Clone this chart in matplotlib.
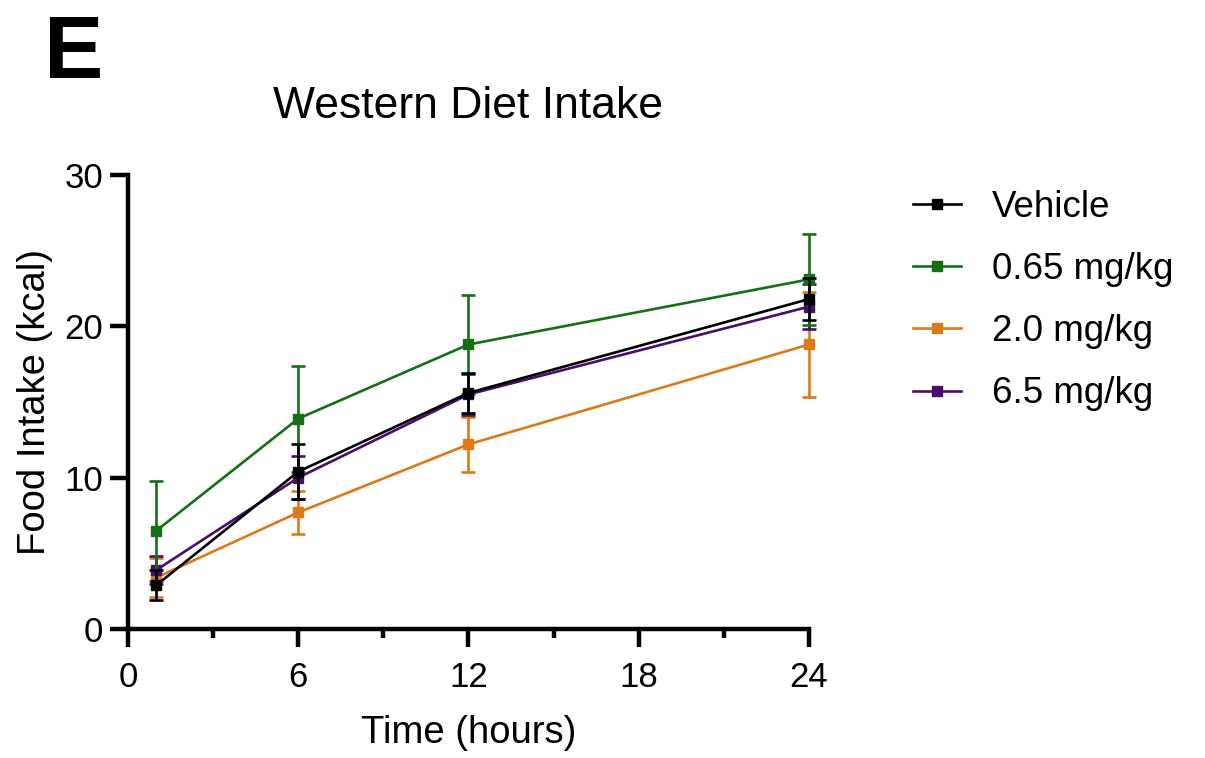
import numpy as np
import matplotlib as mpl
import matplotlib.pyplot as plt
from matplotlib.ticker import MultipleLocator

mpl.rcParams['font.family'] = ['Liberation Sans', 'DejaVu Sans']

# data (mean, SEM)
hours = [1, 6, 12, 24]
groups = ['Vehicle', '0.65 mg/kg', '2.0 mg/kg', '6.5 mg/kg']
vehicle = [2.9, 10.4, 15.6, 21.8]
vehicle_sem = [1.0, 1.8, 1.3, 1.4]
low = [6.5, 13.9, 18.8, 23.1]
low_sem = [3.3, 3.5, 3.25, 3.0]
mid = [3.4, 7.7, 12.2, 18.8]
mid_sem = [1.3, 1.4, 1.8, 3.5]
high = [3.9, 10.0, 15.5, 21.3]
high_sem = [0.9, 1.4, 1.35, 1.5]

colours = ['black', '#137013', '#dd7a18', '#4a0d6e']
series = [(vehicle, vehicle_sem), (low, low_sem), (mid, mid_sem), (high, high_sem)]
zorders = [6, 5, 3, 4]

fig = plt.figure(figsize=(12.05, 7.58), dpi=100)
ax = fig.add_axes([128 / 1205, 1 - 629 / 758, (809 - 128) / 1205, (629 - 175) / 758])

handles = []
for (m, e), c, name, z in zip(series, colours, groups, zorders):
    ax.errorbar(hours, m, yerr=e, fmt='none', ecolor=c, elinewidth=1.9,
                capsize=5, capthick=1.9, zorder=z, clip_on=False)
    h, = ax.plot(hours, m, color=c, lw=1.9, marker='s', markersize=7.5,
                 label=name, zorder=z + 0.5, clip_on=False)
    handles.append(h)

ax.set_xlim(0, 24)
ax.set_ylim(0, 30)
ax.set_xticks([0, 6, 12, 18, 24])
ax.xaxis.set_minor_locator(MultipleLocator(3))
ax.set_yticks([0, 10, 20, 30])

for s in ['top', 'right']:
    ax.spines[s].set_visible(False)
for s in ['left', 'bottom']:
    ax.spines[s].set_linewidth(3.2)

ax.tick_params(axis='both', which='major', direction='out', width=3.2,
               length=13, labelsize=25)
ax.tick_params(axis='x', which='major', pad=10)
ax.tick_params(axis='y', which='major', pad=5)
ax.tick_params(axis='x', which='minor', direction='out', width=3.2, length=6.5)

ax.set_xlabel('Time (hours)', fontsize=27.5, labelpad=15)
ax.set_ylabel('Food Intake (kcal)', fontsize=27.5, labelpad=8)
ax.set_title('Western Diet Intake', fontsize=32, pad=41)

fig.legend(handles=handles, loc='upper left', bbox_to_anchor=(898 / 1205, 1 - 175 / 758),
           frameon=False, fontsize=26.5, handlelength=1.3, handletextpad=0.85,
           labelspacing=0.74, borderaxespad=0)

fig.text(44 / 1205, 1 - 55 / 758, 'E', fontsize=64, fontweight='bold',
         ha='left', va='center')

fig.savefig('out.png', dpi=100)
